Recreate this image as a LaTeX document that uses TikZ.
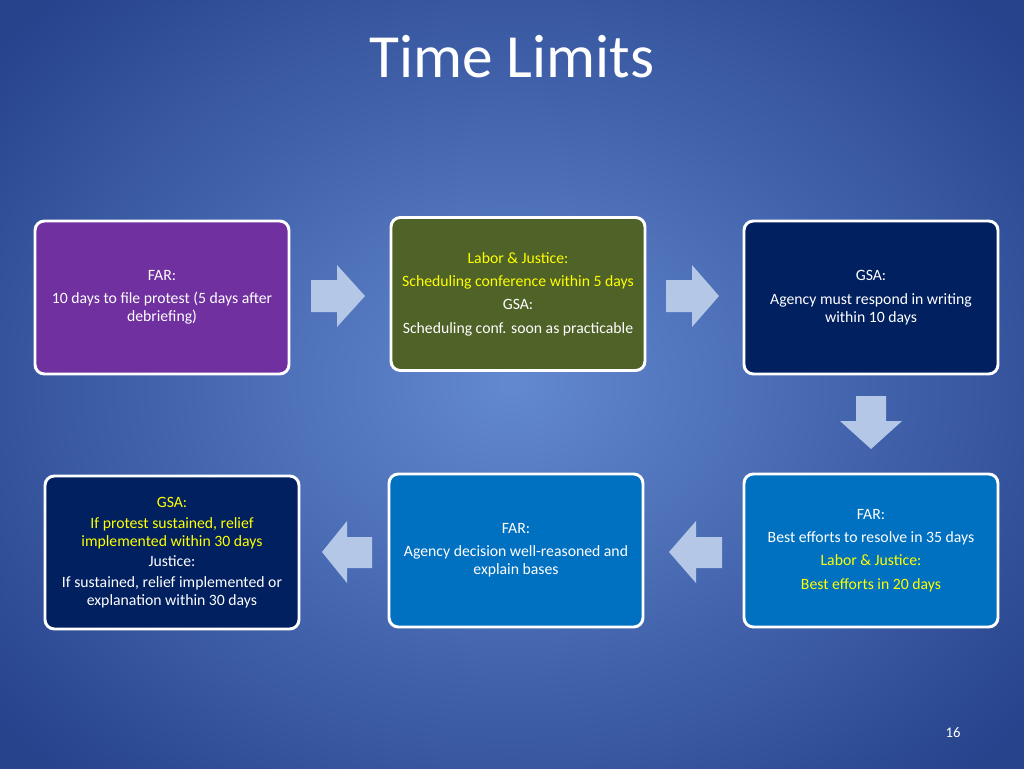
\documentclass[tikz,border=0pt]{standalone}
\usepackage{fontspec}
\setmainfont{Carlito}
\definecolor{bgin}{HTML}{6389D0}
\definecolor{bgout}{HTML}{26438C}
\definecolor{cpurple}{HTML}{7030A0}
\definecolor{colive}{HTML}{4F6228}
\definecolor{cnavy}{HTML}{002060}
\definecolor{cblue}{HTML}{0070C0}
\definecolor{carrow}{HTML}{B4C7E7}
\definecolor{cyel}{HTML}{FFFF00}
\begin{document}
\begin{tikzpicture}[x=0.75pt,y=-0.75pt,
  box/.style={draw=white,line width=2.2pt,rounded corners=7pt,minimum width=254*0.75pt,minimum height=153*0.75pt,align=center,text=white,font=\fontsize{11.8}{13.5}\selectfont},
  blk/.style={fill=carrow}]
\useasboundingbox (0,0) rectangle (1024,768);
\shade[inner color=bgin,outer color=bgout] (-150,-150) rectangle (1174,918);
\node[text=white,font=\fontsize{46}{52}\selectfont] (title) at (512,57) {Time Limits};
\node[box,fill=cpurple] (b1) at (162,297.5) {FAR:\\[4pt]10 days to file protest (5 days after\\debriefing)};
\node[box,fill=colive] (b2) at (518,294) {\textcolor{cyel}{Labor \& Justice:}\\[4pt]\textcolor{cyel}{Scheduling conference within 5 days}\\[4pt]GSA:\\[4pt]Scheduling conf. soon as practicable};
\node[box,fill=cnavy] (b3) at (871,297.5) {GSA:\\[4pt]Agency must respond in writing\\within 10 days};
\node[box,fill=cblue] (b4) at (871,550.5) {FAR:\\[4pt]Best efforts to resolve in 35 days\\[4pt]\textcolor{cyel}{Labor \& Justice:}\\[4pt]\textcolor{cyel}{Best efforts in 20 days}};
\node[box,fill=cblue] (b5) at (516,550.5) {FAR:\\[4pt]Agency decision well-reasoned and\\explain bases};
\node[box,fill=cnavy] (b6) at (172,552.5) {\textcolor{cyel}{GSA:}\\[2pt]\textcolor{cyel}{If protest sustained, relief}\\\textcolor{cyel}{implemented within 30 days}\\[2pt]Justice:\\[2pt]If sustained, relief implemented or\\explanation within 30 days};
\node[text=white,font=\fontsize{11}{12}\selectfont] (pg) at (953,733) {16};
% block arrows
\fill[blk] (311,280) -- (337,280) -- (337,265) -- (365,296) -- (337,327) -- (337,312) -- (311,312) -- cycle;
\fill[blk] (666,280) -- (692,280) -- (692,265) -- (719,296) -- (692,327) -- (692,312) -- (666,312) -- cycle;
\fill[blk] (856,396) -- (886,396) -- (886,421) -- (902,421) -- (871,449) -- (840,421) -- (856,421) -- cycle;
\fill[blk] (722,537) -- (696,537) -- (696,521) -- (669,552) -- (696,583) -- (696,568) -- (722,568) -- cycle;
\fill[blk] (372,537) -- (347,537) -- (347,521) -- (322,552) -- (347,583) -- (347,568) -- (372,568) -- cycle;
\end{tikzpicture}
\end{document}
